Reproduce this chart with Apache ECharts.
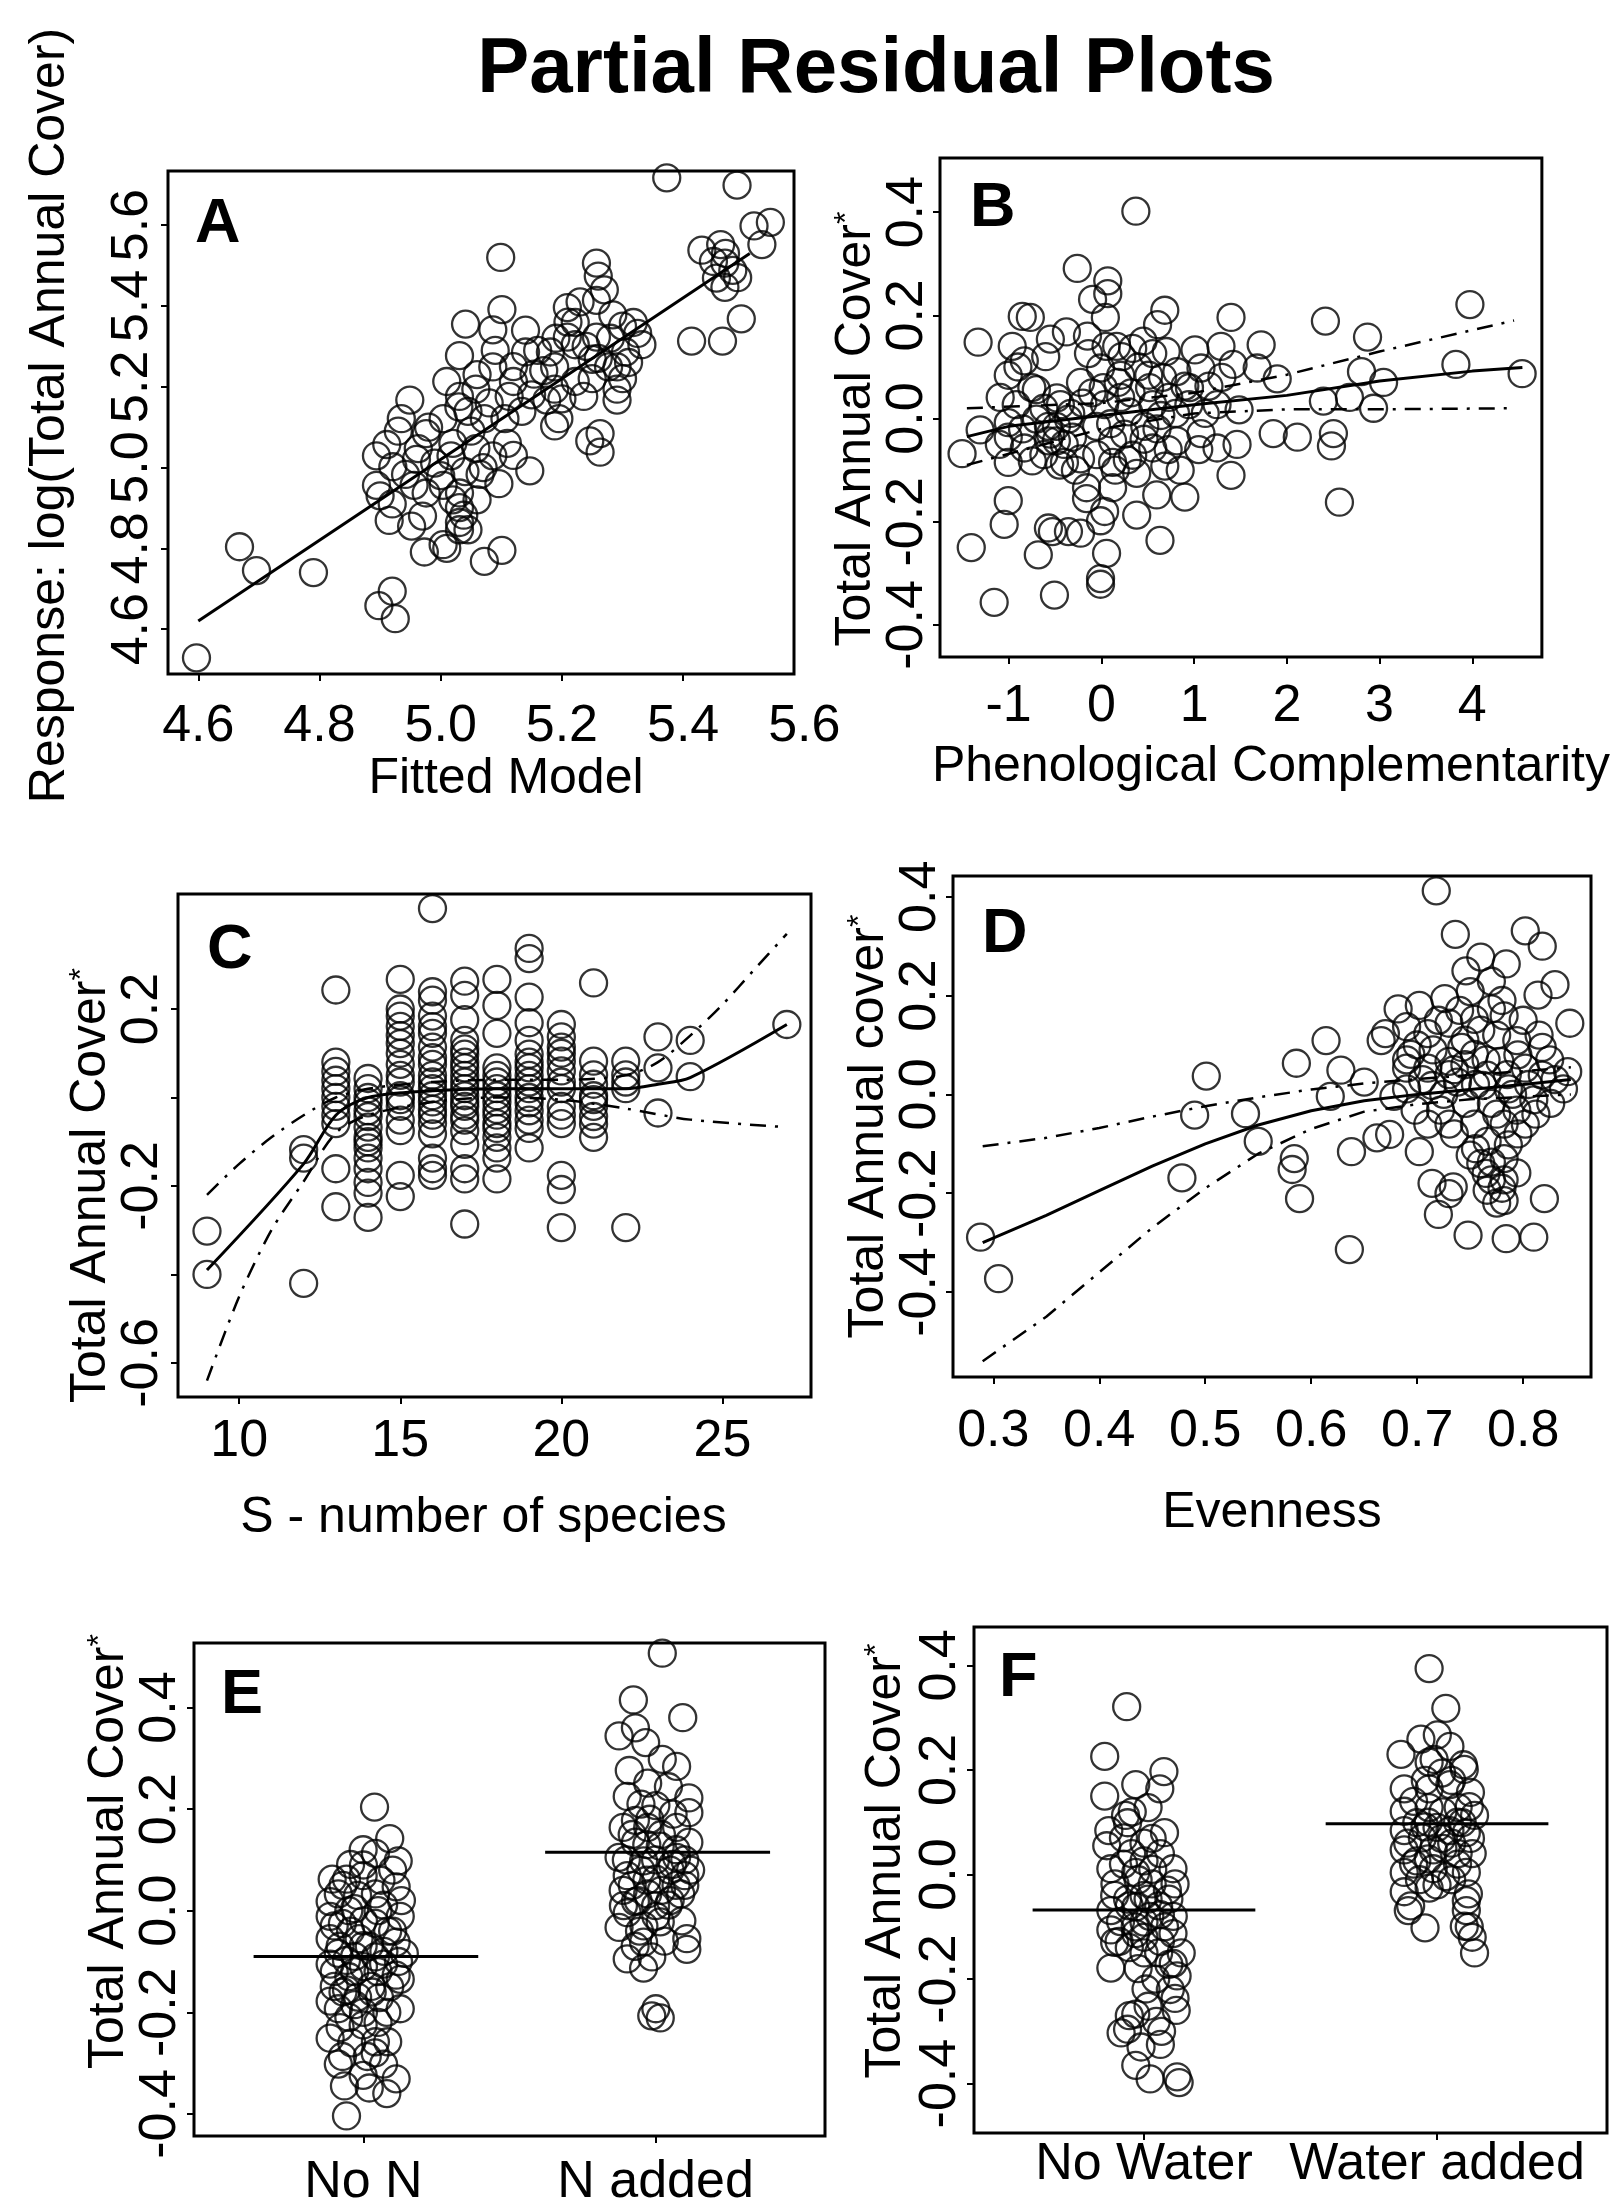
<!DOCTYPE html>
<html><head><meta charset="utf-8">
<script src="https://cdn.jsdelivr.net/npm/echarts/dist/echarts.min.js"></script>
<style>html,body{margin:0;padding:0;background:#fff}#c{width:1612px;height:2209px}</style>
</head><body><div id="c"></div>
<script>
// ---------------- DATA ----------------
const aPoints = [[4.597,4.529],[4.668,4.804],[4.696,4.745],[4.790,4.740],[4.920,4.694],[4.898,4.658],[4.925,4.626],[4.915,4.869],[4.952,4.855],[4.973,4.791],[5.010,4.800],[5.031,4.846],[5.038,4.882],[5.072,4.768],[5.101,4.795],[5.147,4.992],[5.096,4.960],[4.894,5.029],[4.911,5.057],[4.894,4.956],[4.949,5.167],[4.942,4.983],[4.976,5.084],[4.990,5.011],[5.017,5.029],[5.031,4.937],[5.031,4.901],[5.065,4.983],[5.058,5.047],[5.086,5.029],[5.072,5.121],[5.031,5.176],[5.010,5.213],[5.031,5.277],[5.041,5.355],[5.086,5.341],[5.101,5.391],[5.099,5.520],[5.086,5.249],[5.120,5.213],[5.140,5.286],[5.134,5.139],[5.175,5.167],[5.188,5.103],[5.195,5.121],[5.246,5.066],[5.263,5.084],[5.263,5.038],[5.188,5.249],[5.209,5.396],[5.222,5.304],[5.250,5.268],[5.257,5.323],[5.277,5.249],[5.291,5.194],[5.291,5.167],[5.284,5.378],[5.257,5.506],[5.260,5.474],[5.257,5.414],[5.325,5.332],[5.332,5.304],[5.318,5.359],[5.431,5.538],[5.462,5.552],[5.469,5.506],[5.482,5.488],[5.455,5.469],[5.469,5.446],[5.517,5.598],[5.544,5.607],[5.530,5.552],[5.373,5.717],[5.489,5.699],[5.496,5.368],[5.414,5.313],[5.465,5.313],[5.188,5.194],[5.154,5.231],[5.045,5.139],[5.058,5.194],[5.004,5.121],[4.963,5.047],[5.004,4.956],[4.976,4.937],[4.921,5.002],[5.106,5.121],[5.113,5.176],[5.222,5.213],[5.236,5.176],[5.209,5.323],[5.305,5.286],[5.222,5.359],[5.181,5.286],[5.291,5.249],[5.031,4.864],[5.045,4.846],[5.004,4.809],[4.935,5.121],[4.956,4.956],
[5.02,5.06],[5.05,5.09],[5.08,5.16],[5.06,5.23],[5.12,5.25],[5.15,5.18],[5.17,5.24],[5.11,5.06],[4.98,5.10],[4.96,5.02],[5.00,4.98],[5.04,4.99],[5.07,5.00],[5.12,5.03],[4.92,4.91],[4.93,5.09],[5.03,5.15],[5.19,5.32],[5.21,5.36],[5.24,5.30],[5.26,5.27],[5.28,5.32],[5.30,5.35],[5.23,5.41],[5.27,5.44],[5.25,5.22],[5.30,5.22],[5.31,5.26],[5.20,5.17],[5.16,5.29],[5.14,5.34],[5.09,5.29],[4.97,4.88],[5.02,4.92],[5.06,4.92],[4.90,4.93],[5.45,5.51],[5.47,5.53],[5.49,5.47]];
const aFit = [[4.6,4.62],[5.51,5.53]];
const aXTicks = [4.6,4.8,5.0,5.2,5.4];
const aXExtraTick = 5.6;
const aYTicks = [4.6,4.8,5.0,5.2,5.4,5.6];

const bPoints = [[0.372,0.402],[-0.260,0.291],[0.069,0.267],[0.069,0.242],[-0.095,0.231],[0.043,0.196],[0.684,0.210],[0.606,0.182],[-0.853,0.198],[-0.766,0.196],[-1.329,0.148],[-0.961,0.140],[-0.550,0.154],[-0.377,0.168],[1.398,0.196],[2.416,0.189],[3.974,0.221],[2.870,0.158],[1.009,0.133],[1.290,0.140],[1.723,0.143],[-0.831,0.112],[-1.004,0.084],[-1.091,0.041],[-0.139,0.126],[-0.009,0.098],[0.165,0.140],[0.338,0.136],[0.511,0.084],[0.814,0.091],[1.074,0.098],[1.420,0.105],[1.680,0.098],[1.896,0.077],[2.805,0.091],[3.043,0.070],[3.823,0.105],[4.537,0.087],[2.394,0.034],[2.675,0.041],[2.935,0.020],[1.485,0.017],[1.247,0.027],[0.944,0.027],[0.727,0.041],[0.554,0.027],[0.208,0.041],[0.035,0.027],[-0.225,0.070],[-0.442,0.027],[-0.571,-0.015],[-0.701,-0.001],[-0.918,0.027],[-1.307,-0.022],[-1.502,-0.068],[-1.004,-0.036],[-1.004,-0.085],[-0.745,-0.082],[-0.485,-0.043],[-0.398,-0.085],[-0.312,-0.036],[-0.052,-0.015],[0.121,-0.043],[0.121,-0.085],[0.338,-0.071],[0.381,-0.106],[0.554,-0.057],[0.684,-0.092],[0.814,-0.043],[1.074,-0.029],[1.247,-0.057],[1.463,-0.050],[1.398,-0.110],[2.113,-0.036],[2.502,-0.029],[2.481,-0.053],[2.567,-0.162],[-0.160,-0.134],[-0.160,-0.155],[0.035,-0.180],[-0.009,-0.198],[0.381,-0.187],[0.597,-0.148],[0.900,-0.152],[-1.004,-0.159],[-1.048,-0.205],[-0.528,-0.219],[-0.225,-0.222],[0.632,-0.236],[-1.403,-0.250],[-0.680,-0.264],[0.056,-0.261],[-0.009,-0.310],[-0.009,-0.321],[-0.506,-0.342],[-1.156,-0.356],[-0.355,-0.219],[-0.571,-0.212],[-0.485,-0.015],[-0.355,-0.001],[-0.571,-0.043],[0.208,0.084],[0.294,0.013],[0.468,-0.015],[0.641,0.006],[-1.004,-0.008],[-0.701,0.056],[0.554,0.126],[0.900,0.063],[1.853,-0.029],[-0.831,-0.057],[-0.225,-0.078],[0.121,-0.134],[1.160,0.063],
[-0.62,0.02],[-0.55,-0.03],[-0.48,0.04],[-0.40,-0.05],[-0.33,0.01],[-0.62,-0.07],[-0.75,0.06],[-0.85,-0.02],[-0.20,0.03],[-0.10,0.05],[0.02,0.06],[0.10,-0.01],[0.18,0.07],[0.25,-0.03],[0.32,0.05],[0.40,0.10],[0.46,-0.04],[0.52,0.06],[0.60,-0.02],[0.66,0.08],[0.72,-0.06],[0.80,0.01],[0.95,0.06],[1.05,-0.06],[1.12,0.01],[0.28,-0.08],[0.15,-0.10],[-0.05,-0.07],[-0.28,-0.10],[-0.45,-0.09],[-0.90,0.10],[-0.15,0.16],[0.05,0.14],[0.22,0.12],[0.45,0.15],[0.70,0.13],[-0.60,0.12],[-1.1,-0.05],[0.85,-0.10],[1.3,0.08]];
const bFit = [[-1.45,-0.035],[-1,-0.015],[0,0.006],[1,0.027],[2,0.045],[3,0.073],[4,0.092],[4.54,0.099]];
const bUpper = [[-1.45,0.02],[0,0.03],[1,0.05],[2,0.085],[3,0.13],[4.45,0.19]];
const bLower = [[-1.45,-0.09],[0,-0.02],[1,0.01],[2,0.018],[3,0.018],[4.45,0.02]];
const bXTicks = [-1,0,1,2,3,4];
const bYTicks = [-0.4,-0.2,0,0.2,0.4];

const cPoints = [[9,-0.302],[9,-0.400],
[12,-0.118],[12,-0.137],[12,-0.420],
[13,0.243],[13,0.059],[13,0.039],[13,0.020],[13,0.0],[13,-0.020],[13,-0.059],[13,-0.161],[13,-0.247],
[14,0.043],[14,0.020],[14,-0.012],[14,-0.043],[14,-0.067],[14,-0.090],[14,-0.114],[14,-0.137],[14,-0.161],[14,-0.192],[14,-0.216],[14,-0.271],
[15,0.267],[15,0.200],[15,0.184],[15,0.161],[15,0.122],[15,0.075],[15,0.035],[15,0.004],[15,-0.020],[15,-0.051],[15,-0.075],[15,-0.176],[15,-0.224],
[16,0.427],[16,0.239],[16,0.220],[16,0.184],[16,0.145],[16,0.114],[16,0.075],[16,0.035],[16,0.004],[16,-0.027],[16,-0.059],[16,-0.082],[16,-0.137],[16,-0.161],[16,-0.176],
[17,0.263],[17,0.231],[17,0.176],[17,0.129],[17,0.098],[17,0.067],[17,0.035],[17,0.004],[17,-0.020],[17,-0.051],[17,-0.075],[17,-0.106],[17,-0.161],[17,-0.184],[17,-0.286],
[18,0.267],[18,0.208],[18,0.145],[18,0.067],[18,0.035],[18,0.004],[18,-0.027],[18,-0.059],[18,-0.090],[18,-0.114],[18,-0.137],[18,-0.184],
[19,0.337],[19,0.314],[19,0.227],[19,0.169],[19,0.129],[19,0.098],[19,0.067],[19,0.020],[19,-0.012],[19,-0.051],[19,-0.114],
[20,0.165],[20,0.137],[20,0.114],[20,0.082],[20,0.035],[20,-0.020],[20,-0.059],[20,-0.176],[20,-0.208],[20,-0.294],
[21,0.259],[21,0.082],[21,0.051],[21,0.004],[21,-0.020],[21,-0.043],[21,-0.090],
[22,0.082],[22,0.051],[22,0.020],[22,-0.294],
[23,0.137],[23,0.067],[23,-0.035],
[24,0.129],[24,0.047],
[27,0.165],
[13,0.08],[13,-0.04],[14,0.00],[14,-0.03],[14,-0.10],[15,0.10],[15,0.05],[15,-0.005],[15,0.14],[16,0.09],[16,0.05],[16,0.02],[16,-0.01],[16,-0.04],[16,0.16],[17,0.08],[17,0.05],[17,0.02],[17,-0.01],[17,-0.04],[17,0.11],[18,0.05],[18,0.02],[18,-0.01],[18,-0.04],[18,-0.07],[19,0.05],[19,0.035],[19,0.00],[19,-0.03],[19,-0.07],[19,0.08],[20,0.10],[20,0.06],[20,0.02],[20,-0.04],[21,0.03],[21,-0.005],[21,-0.06],[22,0.035]];
const cFit = [[9,-0.39],[12,-0.15],[13,-0.04],[14,0.0],[16,0.015],[18,0.02],[20,0.02],[22,0.02],[23,0.03],[24,0.045],[27,0.165]];
const cUpper = [[9,-0.22],[10,-0.15],[11,-0.09],[12,-0.04],[13,0.0],[14,0.02],[16,0.035],[18,0.04],[20,0.04],[22,0.05],[23,0.08],[24,0.14],[25,0.21],[26,0.29],[27,0.37]];
const cLower = [[9,-0.64],[10,-0.45],[11,-0.3],[12,-0.19],[13,-0.08],[14,-0.04],[16,-0.01],[18,0.0],[20,-0.005],[22,-0.025],[24,-0.05],[27,-0.067]];
const cXTicks = [10,15,20,25];
const cYTicks = [-0.6,-0.4,-0.2,0,0.2];
const cYLabels = [-0.6,-0.2,0.2];

const dPoints = [[0.288,-0.289],[0.305,-0.373],[0.490,-0.042],[0.538,-0.039],[0.501,0.037],[0.550,-0.095],[0.478,-0.169],[0.584,-0.130],[0.582,-0.152],[0.589,-0.211],[0.586,0.063],[0.614,0.109],[0.628,0.049],[0.638,-0.116],[0.636,-0.314],[0.650,0.025],[0.618,-0.004],[0.666,0.109],[0.662,-0.088],[0.674,-0.081],[0.678,-0.004],[0.690,0.011],[0.698,-0.032],[0.702,-0.116],[0.718,0.412],[0.736,0.324],[0.802,0.331],[0.818,0.300],[0.760,0.278],[0.784,0.264],[0.746,0.250],[0.770,0.229],[0.830,0.222],[0.814,0.201],[0.844,0.144],[0.702,0.180],[0.690,0.137],[0.670,0.123],[0.710,0.123],[0.730,0.144],[0.754,0.152],[0.782,0.159],[0.794,0.109],[0.818,0.095],[0.842,0.046],[0.838,0.011],[0.818,0.039],[0.802,0.053],[0.778,0.067],[0.754,0.081],[0.730,0.067],[0.710,0.053],[0.714,0.018],[0.738,0.025],[0.762,0.018],[0.786,0.011],[0.810,-0.011],[0.794,-0.032],[0.770,-0.018],[0.746,-0.018],[0.722,-0.032],[0.730,-0.060],[0.754,-0.060],[0.782,-0.060],[0.802,-0.060],[0.766,-0.095],[0.786,-0.102],[0.750,-0.123],[0.782,-0.130],[0.794,-0.159],[0.770,-0.173],[0.766,-0.194],[0.782,-0.215],[0.714,-0.180],[0.734,-0.187],[0.730,-0.201],[0.720,-0.243],[0.748,-0.285],[0.784,-0.292],[0.810,-0.289],[0.820,-0.211],[0.742,0.095],[0.766,0.039],[0.694,0.081],[0.726,0.194],[0.770,0.173],[0.750,0.208],[0.682,0.173],[0.770,-0.137],[0.782,-0.173],[0.690,0.053],[0.826,-0.018],
[0.705,0.03],[0.715,0.09],[0.725,0.0],[0.735,0.05],[0.745,0.11],[0.755,0.02],[0.765,0.07],[0.775,-0.04],[0.785,0.04],[0.795,0.08],[0.805,0.02],[0.812,-0.04],[0.825,0.07],[0.735,-0.08],[0.755,-0.11],[0.775,0.12],[0.795,-0.08],[0.72,0.15],[0.74,0.17],[0.76,0.13],[0.78,0.19],[0.80,0.15],[0.70,0.10],[0.69,0.07],[0.71,-0.06],[0.73,0.04],[0.79,0.00],[0.83,0.03],[0.765,-0.16],[0.78,-0.19],[0.775,-0.22],[0.76,-0.14],[0.745,0.06],[0.815,0.12]];
const dFit = [[0.29,-0.30],[0.35,-0.245],[0.40,-0.195],[0.45,-0.145],[0.50,-0.10],[0.55,-0.062],[0.60,-0.033],[0.65,-0.013],[0.70,0.0],[0.75,0.01],[0.80,0.02],[0.845,0.03]];
const dUpper = [[0.29,-0.105],[0.35,-0.088],[0.40,-0.068],[0.45,-0.045],[0.50,-0.024],[0.55,-0.006],[0.60,0.01],[0.65,0.022],[0.70,0.031],[0.75,0.039],[0.80,0.047],[0.845,0.055]];
const dLower = [[0.29,-0.54],[0.35,-0.45],[0.40,-0.36],[0.45,-0.27],[0.50,-0.19],[0.55,-0.12],[0.60,-0.07],[0.65,-0.035],[0.70,-0.02],[0.75,-0.01],[0.80,-0.005],[0.845,0.0]];
const dXTicks = [0.3,0.4,0.5,0.6,0.7,0.8];
const dYTicks = [-0.4,-0.2,0,0.2,0.4];

const eCategories = ['No N','N added'];
const ePointsNoN = [[1.038,0.204],[1.090,0.142],[1.119,0.098],[1.041,0.113],[0.956,0.091],[0.999,0.069],[0.893,0.062],[1.112,0.047],[0.914,0.033],[1.041,0.033],[0.886,0.018],[0.970,0.004],[1.126,-0.011],[0.928,-0.025],[1.041,-0.025],[0.886,-0.055],[0.985,-0.055],[1.112,-0.062],[0.914,-0.084],[1.041,-0.091],[0.886,-0.105],[0.970,-0.120],[1.112,-0.127],[0.900,-0.149],[1.027,-0.149],[1.126,-0.135],[0.886,-0.178],[0.970,-0.185],[1.126,-0.193],[0.999,-0.225],[0.886,-0.251],[1.083,-0.258],[0.928,-0.287],[1.013,-0.287],[0.914,-0.302],[1.069,-0.302],[1.112,-0.331],[0.935,-0.345],[1.020,-0.349],[0.942,-0.404],[0.942,0.062],[1.069,0.011],[0.956,-0.040],[1.083,-0.040],[0.999,-0.069],[0.942,-0.098],[1.069,-0.105],[1.140,-0.084],[0.942,-0.156],[1.055,-0.171],[0.886,-0.011],[0.999,0.120],[0.914,-0.193],[1.041,-0.258],[0.999,-0.324],
[0.95,0.00],[1.00,-0.02],[1.05,0.00],[1.10,-0.04],[0.92,-0.07],[0.97,-0.09],[1.02,-0.07],[1.07,-0.08],[1.12,-0.10],[0.90,-0.12],[0.95,-0.13],[1.00,-0.11],[1.05,-0.12],[1.09,-0.15],[0.93,-0.16],[0.98,-0.17],[1.03,-0.16],[1.08,-0.20],[0.95,-0.21],[1.00,-0.20],[1.05,-0.22],[0.92,-0.23],[1.10,0.08],[1.00,0.09],[0.93,0.05],[1.06,0.06],[0.98,0.03],[1.13,0.02],[0.90,-0.03],[1.04,-0.28],[0.96,-0.26],[1.08,-0.36]];
const ePointsNAdded = [[2.023,0.507],[1.924,0.415],[2.093,0.380],[1.875,0.344],[1.966,0.331],[1.931,0.360],[2.023,0.298],[2.072,0.284],[1.910,0.276],[1.973,0.251],[1.903,0.225],[2.114,0.222],[2.114,0.193],[2.001,0.207],[1.889,0.164],[1.973,0.164],[2.072,0.164],[1.931,0.135],[2.016,0.127],[2.114,0.135],[1.875,0.105],[1.959,0.098],[2.058,0.091],[1.903,0.069],[2.001,0.062],[2.100,0.069],[1.889,0.040],[1.973,0.033],[2.086,0.033],[1.903,-0.004],[2.001,-0.011],[1.945,-0.040],[2.016,-0.022],[1.959,-0.062],[2.107,-0.055],[2.107,-0.076],[1.903,-0.095],[1.987,-0.091],[1.959,-0.113],[2.001,-0.193],[2.016,-0.211],[1.987,-0.207],[1.931,0.178],[2.044,0.244],[1.931,0.018],[2.044,0.011],[1.875,-0.033],[2.072,0.105],
[1.92,0.15],[1.97,0.13],[2.02,0.15],[2.07,0.12],[1.90,0.10],[1.95,0.08],[2.00,0.10],[2.05,0.08],[2.10,0.10],[1.92,0.05],[1.97,0.06],[2.02,0.04],[2.07,0.05],[1.89,0.01],[1.94,0.02],[2.00,0.01],[2.05,0.02],[2.09,-0.02],[1.96,-0.03],[2.03,-0.06],[1.93,-0.07],[1.98,0.18],[2.06,0.19],[1.95,0.21],[2.10,0.05],[2.12,0.08]];
const eMedianNoN = [[0.624,-0.09],[1.393,-0.09]];
const eMedianNAdded = [[1.622,0.115],[2.392,0.115]];
const eYTicks = [-0.4,-0.2,0,0.2,0.4];

const fCategories = ['No Water','Water added'];
const fPointsNoWater = [[0.941,0.321],[0.866,0.226],[0.866,0.150],[0.972,0.172],[1.068,0.197],[1.054,0.164],[0.937,0.113],[1.014,0.128],[0.880,0.084],[1.028,0.069],[0.873,0.055],[0.958,0.040],[1.056,0.040],[1.099,0.011],[0.972,0.004],[0.901,-0.018],[1.028,-0.018],[1.106,-0.018],[0.887,-0.069],[0.972,-0.062],[1.056,-0.077],[0.887,-0.106],[0.972,-0.113],[1.099,-0.113],[1.000,-0.150],[1.127,-0.150],[0.887,-0.179],[1.113,-0.194],[1.007,-0.219],[1.106,-0.237],[0.972,-0.267],[1.042,-0.281],[0.922,-0.303],[1.056,-0.325],[0.972,-0.365],[1.021,-0.391],[1.113,-0.387],[1.120,-0.398],[0.944,0.099],[1.000,0.026],[0.944,-0.047],[1.014,-0.047],[1.085,-0.047],[0.915,-0.128],[1.056,-0.128],[1.000,-0.091],[1.085,-0.172],[1.014,-0.252],[0.944,-0.296],[0.887,0.011],
[0.93,0.02],[0.98,-0.01],[1.03,0.01],[1.08,-0.03],[0.90,-0.04],[0.95,-0.06],[1.00,-0.04],[1.05,-0.06],[1.10,-0.08],[0.92,-0.09],[0.97,-0.10],[1.02,-0.08],[1.07,-0.10],[0.90,-0.13],[0.95,-0.14],[1.00,-0.12],[1.05,-0.15],[1.10,-0.17],[0.98,-0.18],[1.04,-0.20],[0.93,0.07],[1.00,0.06],[1.07,0.08],[0.96,0.12],[1.09,-0.22],[1.06,-0.30],[0.99,-0.33],[0.95,-0.27],[1.11,-0.26]];
const fPointsWaterAdded = [[1.973,0.394],[2.030,0.318],[1.877,0.230],[1.945,0.259],[2.001,0.267],[2.044,0.245],[1.973,0.215],[2.093,0.201],[1.888,0.164],[1.973,0.164],[2.044,0.172],[2.114,0.157],[1.888,0.121],[1.973,0.128],[2.072,0.128],[2.128,0.113],[1.888,0.084],[1.959,0.091],[2.044,0.084],[2.114,0.069],[1.888,0.047],[1.987,0.047],[2.072,0.040],[1.888,0.004],[1.987,0.011],[2.100,0.004],[1.888,-0.033],[1.973,-0.026],[2.107,-0.037],[1.902,-0.069],[2.100,-0.069],[1.959,-0.102],[2.093,-0.099],[2.128,-0.150],[1.931,0.099],[2.016,0.069],[2.030,-0.004],[1.931,0.026],[2.086,0.099],[2.016,0.194],
[1.92,0.14],[1.97,0.10],[2.02,0.12],[2.07,0.10],[2.11,0.13],[1.90,0.06],[1.95,0.07],[2.00,0.09],[2.05,0.06],[2.10,0.08],[1.92,0.02],[1.97,0.03],[2.02,0.05],[2.07,0.02],[2.12,0.04],[1.94,-0.01],[2.00,-0.02],[2.05,-0.01],[2.10,-0.05],[1.96,0.18],[2.05,0.18],[2.09,0.21],[1.99,0.22],[1.91,-0.06],[2.11,-0.10],[2.12,-0.12]];
const fMedianNoWater = [[0.62,-0.068],[1.38,-0.068]];
const fMedianWaterAdded = [[1.62,0.097],[2.38,0.097]];
const fYTicks = [-0.4,-0.2,0,0.2,0.4];

const titleText = 'Partial Residual Plots';
const panelLetters = ['A','B','C','D','E','F'];

// ---------------- LAYOUT / STYLE ----------------
const FONT = "'Liberation Sans', Arial, Helvetica, sans-serif";
const TICKFS = 52, NAMEFS = 50;
const f1 = v => v.toFixed(1);
const fi = v => String(Math.round(v));
const sup = {s: {fontSize: 32, verticalAlign: 'top', fontFamily: FONT, color: '#000'}};

const panels = [
 {grid:{left:168,top:171,width:626,height:503},
  x:{min:4.55,max:5.583,ticks:aXTicks,labels:aXTicks,fmt:f1,margin:27,name:'Fitted Model',gap:71,pad:[0,0,0,50]},
  y:{min:4.489,max:5.734,ticks:aYTicks,labels:aYTicks,fmt:f1,margin:9,name:'Response: log(Total Annual Cover)',gap:93,pad:[0,0,0,14]},
  pts:[aPoints], solid:[aFit], dashed:[], letter:[195,225]},
 {grid:{left:940,top:158,width:640,height:499},
  x:{min:-1.74,max:4.75,ticks:bXTicks,labels:bXTicks,fmt:fi,margin:24,name:'Phenological Complementarity',gap:85,pad:[0,0,0,60]},
  y:{min:-0.462,max:0.505,ticks:bYTicks,labels:bYTicks,fmt:f1,margin:6,name:'Total Annual Cover{s|*}',gap:50,pad:[0,43,0,0]},
  pts:[bPoints], solid:[bFit], dashed:[bUpper,bLower], letter:[970,209]},
 {grid:{left:178,top:894,width:633,height:503},
  x:{min:8.1,max:27.75,ticks:cXTicks,labels:cXTicks,fmt:fi,margin:19,name:'S - number of species',gap:96,pad:[0,22,0,0]},
  y:{min:-0.677,max:0.46,ticks:cYTicks,labels:cYLabels,fmt:f1,margin:9,name:'Total Annual Cover{s|*}',gap:59,pad:[0,80,0,0]},
  pts:[cPoints], solid:[cFit], dashed:[cUpper,cLower], letter:[207,951]},
 {grid:{left:953,top:876,width:638,height:501},
  x:{min:0.262,max:0.864,ticks:dXTicks,labels:dXTicks,fmt:f1,margin:29,name:'Evenness',gap:111,pad:[0,0,0,0]},
  y:{min:-0.572,max:0.442,ticks:dYTicks,labels:dYTicks,fmt:f1,margin:6,name:'Total Annual cover{s|*}',gap:50,pad:[0,0,0,0]},
  pts:[dPoints], solid:[dFit], dashed:[dUpper,dLower], letter:[982,935]},
 {grid:{left:194,top:1643,width:631,height:501},
  x:{min:0.42,max:2.58,ticks:[1,2],labels:[1,2],fmt:v=>eCategories[Math.round(v)-1],margin:21,name:'',gap:0,pad:[0,0,0,0]},
  y:{min:-0.4435,max:0.527,ticks:eYTicks,labels:eYTicks,fmt:f1,margin:7,name:'Total Annual Cover{s|*}',gap:59,pad:[0,0,0,76]},
  pts:[ePointsNoN,ePointsNAdded], solid:[eMedianNoN,eMedianNAdded], dashed:[], letter:[221,1696]},
 {grid:{left:974,top:1627,width:633,height:506},
  x:{min:0.42,max:2.58,ticks:[1,2],labels:[1,2],fmt:v=>fCategories[Math.round(v)-1],margin:6,name:'',gap:0,pad:[0,0,0,0]},
  y:{min:-0.4945,max:0.4735,ticks:fYTicks,labels:fYTicks,fmt:f1,margin:7,name:'Total Annual Cover{s|*}',gap:63,pad:[0,0,0,38]},
  pts:[fPointsNoWater,fPointsWaterAdded], solid:[fMedianNoWater,fMedianWaterAdded], dashed:[], letter:[999,1679]}
];

const grid = [], xAxis = [], yAxis = [], series = [];
panels.forEach((p, i) => {
  grid.push(Object.assign({show:true, borderColor:'#000', borderWidth:3, backgroundColor:'transparent', containLabel:false}, p.grid));
  xAxis.push({type:'value', gridIndex:i, min:p.x.min, max:p.x.max,
    axisLine:{show:false, onZero:false}, splitLine:{show:false},
    axisTick:{show:true, inside:false, length:7, customValues:p.x.ticks, lineStyle:{color:'#000', width:2}},
    axisLabel:{show:true, customValues:p.x.labels, formatter:p.x.fmt, margin:p.x.margin, fontSize:TICKFS, color:'#000', fontFamily:FONT},
    name:p.x.name, nameLocation:'middle', nameGap:p.x.gap,
    nameTextStyle:{fontSize:NAMEFS, color:'#000', fontFamily:FONT, padding:p.x.pad}});
  yAxis.push({type:'value', gridIndex:i, min:p.y.min, max:p.y.max,
    axisLine:{show:false, onZero:false}, splitLine:{show:false},
    axisTick:{show:true, inside:false, length:7, customValues:p.y.ticks, lineStyle:{color:'#000', width:2}},
    axisLabel:{show:true, customValues:p.y.labels, formatter:p.y.fmt, rotate:90, margin:p.y.margin, fontSize:TICKFS, color:'#000', fontFamily:FONT},
    name:p.y.name, nameLocation:'middle', nameGap:p.y.gap, nameRotate:90,
    nameTextStyle:{fontSize:NAMEFS, color:'#000', fontFamily:FONT, padding:p.y.pad, rich:sup}});
  p.pts.forEach(d => series.push({type:'scatter', xAxisIndex:i, yAxisIndex:i, data:d, symbol:'circle', symbolSize:27,
    itemStyle:{color:'rgba(0,0,0,0)', borderColor:'#000', borderWidth:2.3}, silent:true, z:3}));
  p.solid.forEach(d => series.push({type:'line', xAxisIndex:i, yAxisIndex:i, data:d, showSymbol:false, smooth:(i===2)?0.3:false,
    lineStyle:{color:'#000', width:3, type:'solid'}, silent:true, z:4}));
  p.dashed.forEach(d => series.push({type:'line', xAxisIndex:i, yAxisIndex:i, data:d, showSymbol:false, smooth:(i===2)?0.3:false,
    lineStyle:{color:'#000', width:2.5, type:[16,9,3,9]}, silent:true, z:4}));
});

const graphic = [
  {type:'text', x:876, y:70, style:{text:titleText, fontSize:78, fontWeight:'bold', fontFamily:FONT, fill:'#000', textAlign:'center', textVerticalAlign:'middle'}}
];
panels.forEach((p, i) => {
  graphic.push({type:'text', x:p.letter[0], y:p.letter[1], style:{text:panelLetters[i], fontSize:63, fontWeight:'bold', fontFamily:FONT, fill:'#000', textAlign:'left', textVerticalAlign:'middle'}});
});

const chart = echarts.init(document.getElementById('c'), null, {renderer:'canvas'});
chart.setOption({animation:false, backgroundColor:'#fff', grid, xAxis, yAxis, series, graphic});

// extra tick label 5.6 on panel A (lies just beyond the plotted range), positioned via the axis scale
const px = chart.convertToPixel({xAxisIndex:0}, aXExtraTick);
const pa = panels[0];
graphic.push({type:'text', x:px, y:pa.grid.top + pa.grid.height + pa.x.margin,
  style:{text:f1(aXExtraTick), fontSize:TICKFS, fontFamily:FONT, fill:'#000', textAlign:'center', textVerticalAlign:'top'}});
chart.setOption({graphic});
</script></body></html>
